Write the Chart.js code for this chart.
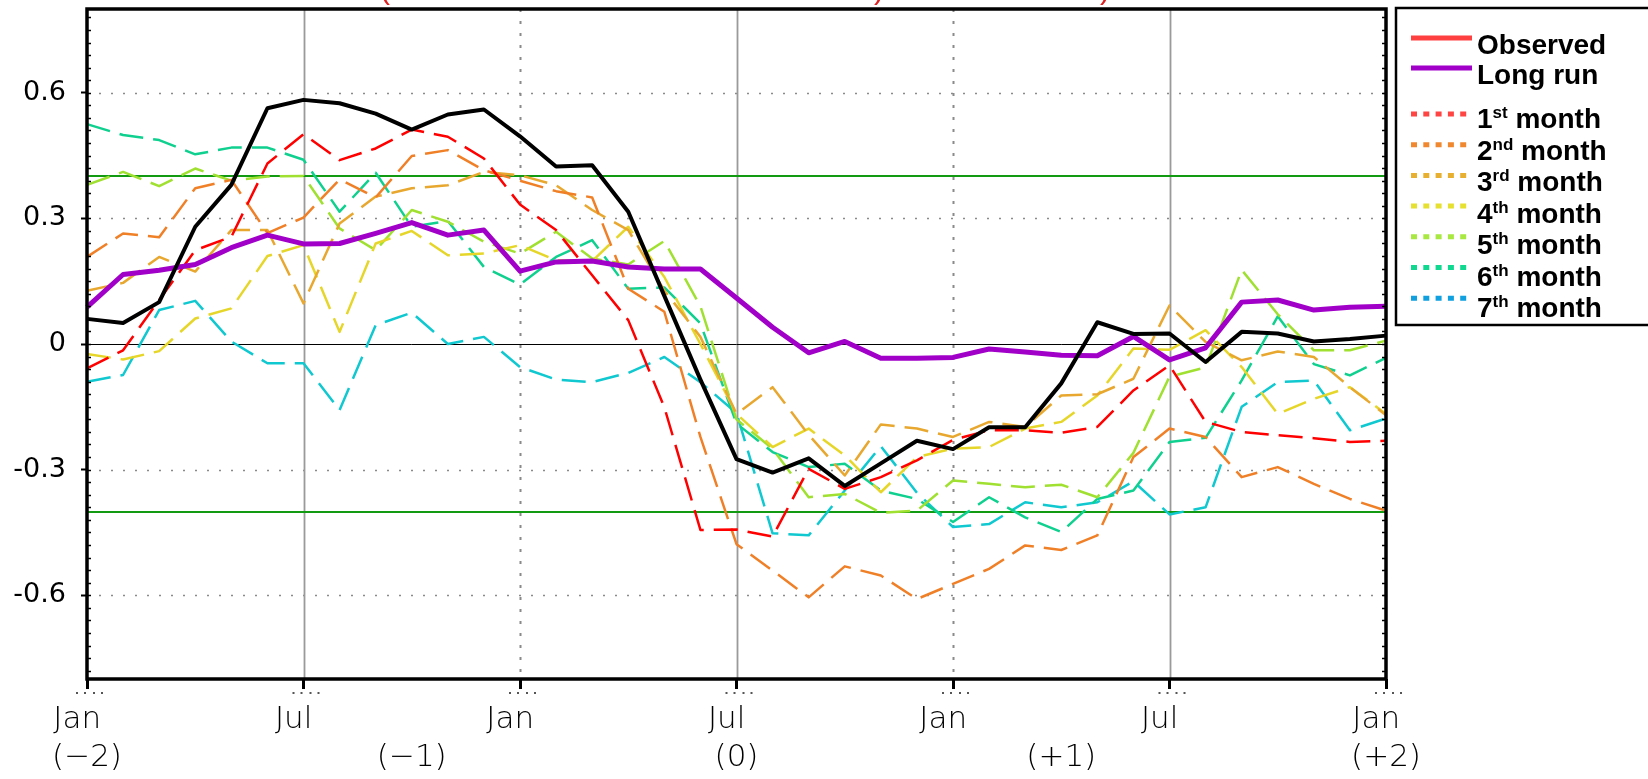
<!DOCTYPE html>
<html>
<head>
<meta charset="utf-8">
<script src="https://cdn.jsdelivr.net/npm/chart.js@4.4.1/dist/chart.umd.min.js"></script>
<style>
  html, body { margin: 0; padding: 0; background: #fff; }
  #wrap { position: relative; width: 1648px; height: 779px; }
</style>
</head>
<body>
<div id="wrap"><canvas id="chart"></canvas></div>
<script>
// monthly values from Jan(-2) to Jan(+2)
const obs = [0.06, 0.05, 0.10, 0.28, 0.38, 0.563, 0.583, 0.575, 0.55, 0.512, 0.548, 0.56, 0.496, 0.424, 0.427, 0.316, 0.115, -0.085, -0.275, -0.307, -0.273, -0.339, -0.285, -0.231, -0.251, -0.199, -0.199, -0.094, 0.052, 0.024, 0.025, -0.043, 0.029, 0.025, 0.006, 0.012, 0.02];
const longRun = [0.088, 0.166, 0.176, 0.19, 0.23, 0.26, 0.239, 0.24, 0.264, 0.29, 0.26, 0.272, 0.174, 0.196, 0.198, 0.184, 0.179, 0.179, 0.11, 0.04, -0.021, 0.006, -0.034, -0.034, -0.032, -0.012, -0.019, -0.027, -0.028, 0.018, -0.038, -0.009, 0.10, 0.105, 0.081, 0.088, 0.09];
const lead1 = [-0.058, -0.015, 0.105, 0.224, 0.256, 0.431, 0.501, 0.439, 0.467, 0.512, 0.495, 0.443, 0.333, 0.272, 0.164, 0.057, -0.151, -0.444, -0.443, -0.46, -0.298, -0.346, -0.318, -0.278, -0.229, -0.206, -0.206, -0.212, -0.198, -0.111, -0.051, -0.186, -0.21, -0.218, -0.225, -0.234, -0.231];
const lead2 = [0.208, 0.264, 0.255, 0.372, 0.392, 0.265, 0.302, 0.393, 0.35, 0.449, 0.463, 0.415, 0.39, 0.365, 0.35, 0.132, 0.077, -0.222, -0.478, -0.541, -0.605, -0.531, -0.553, -0.609, -0.573, -0.537, -0.481, -0.492, -0.457, -0.27, -0.202, -0.222, -0.318, -0.294, -0.334, -0.37, -0.398];
const lead3 = [0.127, 0.146, 0.208, 0.173, 0.272, 0.272, 0.097, 0.288, 0.352, 0.372, 0.379, 0.411, 0.403, 0.379, 0.32, 0.272, 0.128, 0.017, -0.167, -0.103, -0.217, -0.314, -0.192, -0.202, -0.222, -0.186, -0.198, -0.123, -0.12, -0.083, 0.092, 0.005, -0.039, -0.018, -0.031, -0.103, -0.17];
const lead4 = [-0.024, -0.037, -0.017, 0.061, 0.085, 0.21, 0.236, 0.029, 0.24, 0.27, 0.212, 0.216, 0.236, 0.2, 0.198, 0.28, 0.16, 0.0, -0.167, -0.246, -0.202, -0.266, -0.354, -0.27, -0.25, -0.246, -0.202, -0.186, -0.123, -0.011, -0.014, 0.033, -0.055, -0.167, -0.131, -0.103, -0.167];
const lead5 = [0.38, 0.411, 0.377, 0.419, 0.39, 0.40, 0.401, 0.276, 0.224, 0.32, 0.292, 0.244, 0.216, 0.268, 0.204, 0.19, 0.246, 0.09, -0.18, -0.25, -0.366, -0.358, -0.403, -0.398, -0.326, -0.334, -0.342, -0.336, -0.366, -0.26, -0.078, -0.056, 0.177, 0.071, -0.015, -0.015, 0.008];
const lead6 = [0.525, 0.499, 0.487, 0.453, 0.469, 0.469, 0.44, 0.316, 0.409, 0.28, 0.294, 0.184, 0.142, 0.208, 0.248, 0.132, 0.135, 0.049, -0.19, -0.258, -0.294, -0.286, -0.35, -0.37, -0.425, -0.366, -0.414, -0.449, -0.37, -0.35, -0.234, -0.224, -0.087, 0.066, -0.048, -0.075, -0.033];
const lead7 = [-0.09, -0.074, 0.081, 0.103, 0.006, -0.046, -0.046, -0.158, 0.045, 0.075, 0.0, 0.017, -0.055, -0.085, -0.091, -0.069, -0.031, -0.091, -0.165, -0.452, -0.457, -0.35, -0.244, -0.355, -0.437, -0.43, -0.378, -0.39, -0.378, -0.328, -0.407, -0.39, -0.15, -0.091, -0.087, -0.206, -0.178];

// axis labelling
const monthTicks = ['Jan', 'Jul', 'Jan', 'Jul', 'Jan', 'Jul', 'Jan'];   // every 6 months
const yearTicks = ['(\u22122)', '(\u22121)', '(0)', '(+1)', '(+2)'];    // every 9 months
const yTicks = [-0.6, -0.3, 0, 0.3, 0.6];
const yGrid = [-0.6, -0.3, 0.3, 0.6];
const limits = [-0.4, 0.4];

// legend entries
const solidNames = ['Observed', 'Long run'];
const solidColors = ['#ff4040', '#a000c8'];
const leadNums = ['1', '2', '3', '4', '5', '6', '7'];
const leadSuffix = ['st', 'nd', 'rd', 'th', 'th', 'th', 'th'];
const leadKeyColors = ['#ff4444', '#f08830', '#e8b030', '#e6e030', '#a8e840', '#10d890', '#10a0e0'];
const leadColors = ['#ff0000', '#f08028', '#e8a830', '#e6d62a', '#a0e030', '#10d090', '#10c8d0'];

const leads = [lead1, lead2, lead3, lead4, lead5, lead6, lead7];
const labels = obs.map((v, i) => i);

function seg(ctx, x0, y0, x1, y1) {
    ctx.beginPath();
    ctx.moveTo(x0, y0);
    ctx.lineTo(x1, y1);
    ctx.stroke();
}

// dotted grid, month lines, zero line and the +-0.4 levels
const backLines = {
    id: 'backLines',
    beforeDatasetsDraw(chart) {
        const { ctx, chartArea: a, scales: { x, y } } = chart;
        ctx.save();
        ctx.beginPath();
        ctx.rect(a.left, a.top, a.right - a.left, a.bottom - a.top);
        ctx.clip();

        ctx.strokeStyle = '#8a8a8a';
        ctx.lineWidth = 1.6;
        ctx.setLineDash([2, 10]);
        yGrid.forEach(v => {
            const py = Math.round(y.getPixelForValue(v)) + 0.5;
            seg(ctx, a.left, py, a.right, py);
        });

        for (let i = 6; i < labels.length - 1; i += 6) {
            const px = Math.round(x.getPixelForValue(i)) + 0.5;
            if (i % 12 === 6) {
                ctx.setLineDash([]);
                ctx.strokeStyle = '#9a9a9a';
                ctx.lineWidth = 1.8;
            } else {
                ctx.setLineDash([3, 9]);
                ctx.strokeStyle = '#8a8a8a';
                ctx.lineWidth = 2;
            }
            seg(ctx, px, a.top, px, a.bottom);
        }

        ctx.setLineDash([]);
        ctx.strokeStyle = '#000';
        ctx.lineWidth = 1;
        const zy = Math.round(y.getPixelForValue(0)) + 0.5;
        seg(ctx, a.left, zy, a.right, zy);

        ctx.strokeStyle = '#129a12';
        ctx.lineWidth = 2;
        limits.forEach(v => {
            const py = Math.round(y.getPixelForValue(v));
            seg(ctx, a.left, py, a.right, py);
        });
        ctx.restore();
    }
};

// heavy frame, small inner ticks and the key box
const frameAndKey = {
    id: 'frameAndKey',
    afterDraw(chart) {
        const { ctx, chartArea: a, scales: { x, y } } = chart;
        ctx.save();
        ctx.strokeStyle = '#000';
        ctx.lineWidth = 3.5;
        ctx.strokeRect(a.left, a.top, a.right - a.left, a.bottom - a.top);

        ctx.lineWidth = 1.5;
        for (let k = -26; k <= 26; k++) {
            const py = Math.round(y.getPixelForValue(k * 0.03)) + 0.5;
            seg(ctx, a.left, py, a.left + 4, py);
            seg(ctx, a.right - 4, py, a.right, py);
        }

        ctx.fillStyle = '#555';
        for (let i = 0; i < labels.length; i += 6) {
            const px = x.getPixelForValue(i);
            [-11, -3, 6, 14].forEach(d => ctx.fillRect(px + d, a.bottom + 13, 2, 2));
        }

        // title, mostly above the page edge
        ctx.fillStyle = '#e02020';
        ctx.font = '30px "Liberation Sans", Arial, sans-serif';
        ctx.textBaseline = 'alphabetic';
        ctx.fillText('(', 380, -1);
        ctx.fillText(')', 874, -1);
        ctx.fillText(')', 1100, -1);

        // key
        ctx.strokeStyle = '#000';
        ctx.lineWidth = 2.5;
        ctx.strokeRect(1396, 8, 300, 317);

        const lx0 = 1411, lx1 = 1472, tx = 1477;
        const big = 'bold 28px "Liberation Sans", Arial, sans-serif';
        const small = 'bold 17px "Liberation Sans", Arial, sans-serif';
        solidNames.forEach((name, k) => {
            const ly = 38 + k * 30;
            ctx.strokeStyle = solidColors[k];
            ctx.lineWidth = 5;
            ctx.setLineDash([]);
            seg(ctx, lx0, ly, lx1, ly);
            ctx.fillStyle = '#000';
            ctx.font = big;
            ctx.fillText(name, tx, ly + 16);
        });

        leadNums.forEach((n, k) => {
            const ly = 114 + k * 30.7;
            const base = 128 + k * 31.5;
            ctx.strokeStyle = leadKeyColors[k];
            ctx.lineWidth = 5;
            ctx.setLineDash([6, 6.3]);
            seg(ctx, lx0, ly, lx1, ly);
            ctx.fillStyle = '#000';
            ctx.font = big;
            ctx.fillText(n, tx, base);
            let cx = tx + ctx.measureText(n).width;
            ctx.font = small;
            ctx.fillText(leadSuffix[k], cx, base - 10);
            cx += ctx.measureText(leadSuffix[k]).width;
            ctx.font = big;
            ctx.fillText(' month', cx, base);
        });
        ctx.restore();
    }
};

const datasets = [
    { data: obs, borderColor: '#000', borderWidth: 4, order: 0 },
    { data: longRun, borderColor: '#a000c8', borderWidth: 5, order: 1 }
];
leads.forEach((d, k) => {
    datasets.push({ data: d, borderColor: leadColors[k], borderWidth: 2.5, borderDash: [24, 10], order: 2 });
});
datasets.forEach(ds => {
    ds.pointRadius = 0;
    ds.tension = 0;
    ds.fill = false;
    ds.borderJoinStyle = 'round';
});

new Chart(document.getElementById('chart'), {
    type: 'line',
    data: { labels, datasets },
    plugins: [backLines, frameAndKey],
    options: {
        responsive: true,
        maintainAspectRatio: false,
        devicePixelRatio: 1,
        animation: false,
        layout: { padding: { top: 9, right: 262, left: 0, bottom: 0 } },
        plugins: {
            legend: { display: false },
            tooltip: { enabled: false }
        },
        scales: {
            x: {
                type: 'category',
                offset: false,
                afterFit: axis => {
                    axis.height = 100;
                    axis.paddingLeft = 0;
                    axis.paddingRight = 0;
                },
                border: { display: false },
                grid: {
                    drawOnChartArea: false,
                    drawTicks: true,
                    tickLength: 10,
                    tickWidth: 3,
                    tickColor: c => (c.index % 6 === 0 ? '#000' : 'rgba(0,0,0,0)')
                },
                ticks: {
                    autoSkip: false,
                    maxRotation: 0,
                    minRotation: 0,
                    padding: 12,
                    color: '#000',
                    font: { family: '"DejaVu Sans", sans-serif', size: 31, weight: 200, lineHeight: 1.23 },
                    callback: (value, index) => [
                        index % 6 === 0 ? monthTicks[index / 6] + '  ' : '',
                        index % 9 === 0 ? yearTicks[index / 9] : ''
                    ]
                }
            },
            y: {
                min: -0.8,
                max: 0.8,
                afterFit: axis => {
                    axis.width = 87;
                    axis.paddingTop = 0;
                    axis.paddingBottom = 0;
                },
                afterBuildTicks: axis => { axis.ticks = yTicks.map(v => ({ value: v })); },
                border: { display: false },
                grid: {
                    drawOnChartArea: false,
                    drawTicks: true,
                    tickLength: 6,
                    tickWidth: 2,
                    tickColor: '#000'
                },
                ticks: {
                    padding: 15,
                    color: '#000',
                    font: { family: '"DejaVu Sans", sans-serif', size: 27 },
                    callback: v => (v === 0 ? '0' : v.toFixed(1))
                }
            }
        }
    }
});
</script>
</body>
</html>
